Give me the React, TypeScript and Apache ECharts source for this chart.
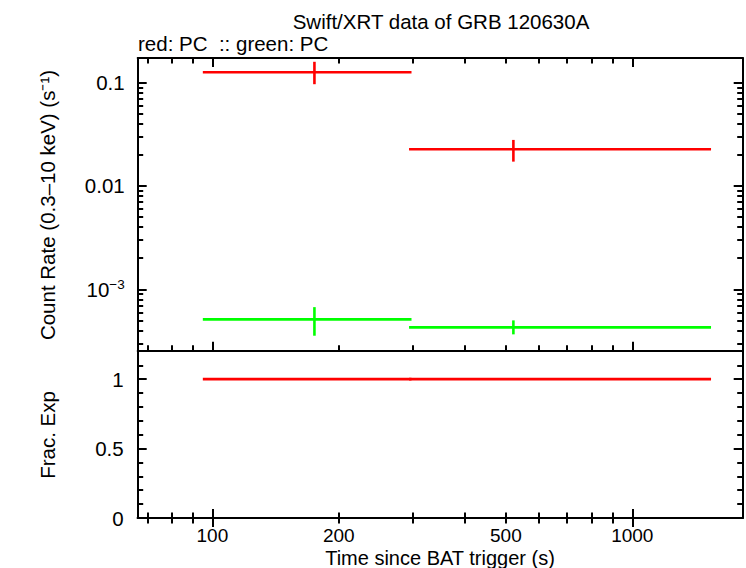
import React, { useEffect, useRef } from "react";
import * as echarts from "echarts";

// Time bins (s since BAT trigger)
const binStart = [94.9, 294];
const binEnd = [298, 1540];
const binMid = [175, 521];

// PC count rates (s^-1) with lower / upper error bounds
const redRate = [0.126, 0.0227];
const redLo = [0.0965, 0.0172];
const redHi = [0.159, 0.0279];

const greenRate = [5.12e-4, 4.29e-4];
const greenLo = [3.56e-4, 3.67e-4];
const greenHi = [6.73e-4, 5.01e-4];

// Fractional exposure per bin
const fracExp = [1, 1];

// Axis ticks and labels
const xMajor = [100, 1000];
const xMinor = [70, 80, 90, 200, 300, 400, 500, 600, 700, 800, 900];
const xLabels = [100, 200, 500, 1000];
const rateMajor = [1e-3, 1e-2, 1e-1];
const rateMinor = [
  3e-4, 4e-4, 5e-4, 6e-4, 7e-4, 8e-4, 9e-4,
  2e-3, 3e-3, 4e-3, 5e-3, 6e-3, 7e-3, 8e-3, 9e-3,
  2e-2, 3e-2, 4e-2, 5e-2, 6e-2, 7e-2, 8e-2, 9e-2,
];
const fracMajor = [0, 0.5, 1];
const fracMinor = [0.1, 0.2, 0.3, 0.4, 0.6, 0.7, 0.8, 0.9, 1.1];

const X_MIN = 66.4;
const X_MAX = 1832;
const RATE_MIN = 2.55e-4;
const RATE_MAX = 0.173;
const FRAC_MIN = 0;
const FRAC_MAX = 1.205;

const FONT = '"Liberation Sans", Arial, Helvetica, sans-serif';
const FS = 20.5;
const FS_X = 19;
const MAJOR_LEN = 9;
const MINOR_LEN = 5.5;

function rateLabel(v: number): string {
  if (Math.abs(v - 0.1) < 1e-9) return "{b|0.1}";
  if (Math.abs(v - 0.01) < 1e-10) return "{b|0.01}";
  return "{b|10}{s|\u22123}";
}

export default function App() {
  const ref = useRef<HTMLDivElement>(null);

  useEffect(() => {
    if (!ref.current) return;
    const chart = echarts.init(ref.current, null, { renderer: "svg" });

    const lineStyle = { color: "#000", width: 2 };

    const xAxisSet = (gridIndex: number, withLabels: boolean) => {
      const base = {
        type: "log" as const,
        gridIndex,
        min: X_MIN,
        max: X_MAX,
        logBase: 10,
        splitLine: { show: false },
      };
      return [
        {
          ...base,
          position: "bottom",
          axisLine: { show: true, lineStyle },
          axisTick: { show: true, inside: true, length: MAJOR_LEN, customValues: xMajor, lineStyle },
          axisLabel: withLabels
            ? {
                show: true,
                customValues: xLabels,
                margin: 7.5,
                lineHeight: 19,
                color: "#000",
                fontSize: FS_X,
                fontFamily: FONT,
                formatter: (v: number) => String(Math.round(v)),
              }
            : { show: false },
        },
        {
          ...base,
          position: "bottom",
          axisLine: { show: false },
          axisTick: { show: true, inside: true, length: MINOR_LEN, customValues: xMinor, lineStyle },
          axisLabel: { show: false },
        },
        {
          ...base,
          position: "top",
          axisLine: { show: true, lineStyle },
          axisTick: { show: true, inside: true, length: MAJOR_LEN, customValues: xMajor, lineStyle },
          axisLabel: { show: false },
        },
        {
          ...base,
          position: "top",
          axisLine: { show: false },
          axisTick: { show: true, inside: true, length: MINOR_LEN, customValues: xMinor, lineStyle },
          axisLabel: { show: false },
        },
      ];
    };

    const yAxisSet = (
      gridIndex: number,
      type: "log" | "value",
      min: number,
      max: number,
      major: number[],
      minor: number[],
      label: any
    ) => {
      const base: any = { type, gridIndex, min, max, splitLine: { show: false } };
      if (type === "log") base.logBase = 10;
      return [
        {
          ...base,
          position: "left",
          axisLine: { show: true, lineStyle },
          axisTick: { show: true, inside: true, length: MAJOR_LEN, customValues: major, lineStyle },
          axisLabel: label,
        },
        {
          ...base,
          position: "left",
          axisLine: { show: false },
          axisTick: { show: true, inside: true, length: MINOR_LEN, customValues: minor, lineStyle },
          axisLabel: { show: false },
        },
        {
          ...base,
          position: "right",
          axisLine: { show: true, lineStyle },
          axisTick: { show: true, inside: true, length: MAJOR_LEN, customValues: major, lineStyle },
          axisLabel: { show: false },
        },
        {
          ...base,
          position: "right",
          axisLine: { show: false },
          axisTick: { show: true, inside: true, length: MINOR_LEN, customValues: minor, lineStyle },
          axisLabel: { show: false },
        },
      ];
    };

    const rateLabelOpt = {
      show: true,
      customValues: rateMajor,
      margin: 13,
      color: "#000",
      formatter: rateLabel,
      rich: {
        b: { fontSize: FS, fontFamily: FONT, color: "#000", lineHeight: 23 },
        s: { fontSize: 13.5, fontFamily: FONT, color: "#000", lineHeight: 13.5, verticalAlign: "top" },
      },
    };
    const fracLabelOpt = {
      show: true,
      customValues: fracMajor,
      margin: 14,
      color: "#000",
      fontSize: FS,
      fontFamily: FONT,
      formatter: (v: number) => String(v),
    };

    // Horizontal bin bar plus vertical error bar, drawn through the axes' scales
    const errRender = (color: string, withVertical: boolean) => (params: any, api: any) => {
      const x0 = api.value(0);
      const x1 = api.value(1);
      const xm = api.value(2);
      const y = api.value(3);
      const lo = api.value(4);
      const hi = api.value(5);
      const pL = api.coord([x0, y]);
      const pR = api.coord([x1, y]);
      const children: any[] = [
        {
          type: "line",
          shape: { x1: pL[0], y1: pL[1], x2: pR[0], y2: pR[1] },
          style: { stroke: color, lineWidth: 2.6 },
        },
      ];
      if (withVertical) {
        const pB = api.coord([xm, lo]);
        const pT = api.coord([xm, hi]);
        children.push({
          type: "line",
          shape: { x1: pB[0], y1: pB[1], x2: pT[0], y2: pT[1] },
          style: { stroke: color, lineWidth: 2.6 },
        });
      }
      return { type: "group", children };
    };

    const rows = (rate: number[], lo: number[], hi: number[]) =>
      rate.map((r, i) => [binStart[i], binEnd[i], binMid[i], r, lo[i], hi[i]]);

    const gridLeft = 137.7;
    const gridRight = 746 - 742.7;

    chart.setOption({
      animation: false,
      title: {
        text: "Swift/XRT data of GRB 120630A",
        left: 436,
        top: 6,
        textAlign: "center",
        textStyle: { fontSize: FS, fontWeight: "normal", fontFamily: FONT, color: "#000" },
      },
      grid: [
        { left: gridLeft, right: gridRight, top: 58, height: 292.7 },
        { left: gridLeft, right: gridRight, top: 350.7, height: 167.3 },
      ],
      xAxis: [...xAxisSet(0, false), ...xAxisSet(1, true)],
      yAxis: [
        ...yAxisSet(0, "log", RATE_MIN, RATE_MAX, rateMajor, rateMinor, rateLabelOpt),
        ...yAxisSet(1, "value", FRAC_MIN, FRAC_MAX, fracMajor, fracMinor, fracLabelOpt),
      ],
      series: [
        {
          type: "custom",
          xAxisIndex: 0,
          yAxisIndex: 0,
          renderItem: errRender("#00ff00", true),
          data: rows(greenRate, greenLo, greenHi),
          z: 2,
        },
        {
          type: "custom",
          xAxisIndex: 0,
          yAxisIndex: 0,
          renderItem: errRender("#ff0000", true),
          data: rows(redRate, redLo, redHi),
          z: 3,
        },
        {
          type: "custom",
          xAxisIndex: 4,
          yAxisIndex: 4,
          renderItem: errRender("#ff0000", false),
          data: fracExp.map((f, i) => [binStart[i], binEnd[i], binMid[i], f, f, f]),
          z: 3,
        },
      ],
      graphic: [
        {
          type: "text",
          left: 138,
          top: 33,
          style: { text: "red: PC \u00a0:: green: PC", fontSize: FS, fontFamily: FONT, fill: "#000" },
        },
        {
          type: "text",
          x: 47,
          y: 205,
          rotation: Math.PI / 2,
          style: {
            text: "Count Rate (0.3\u201310 keV) (s\u207b\u00b9)",
            fontSize: FS,
            fontFamily: FONT,
            fill: "#000",
            align: "center",
            verticalAlign: "middle",
          },
        },
        {
          type: "text",
          x: 47,
          y: 435,
          rotation: Math.PI / 2,
          style: {
            text: "Frac. Exp",
            fontSize: FS,
            fontFamily: FONT,
            fill: "#000",
            align: "center",
            verticalAlign: "middle",
          },
        },
        {
          type: "text",
          x: 440,
          y: 557.5,
          style: {
            text: "Time since BAT trigger (s)",
            fontSize: 20,
            lineHeight: 18,
            fontFamily: FONT,
            fill: "#000",
            align: "center",
            verticalAlign: "middle",
          },
        },
      ],
    });

    return () => chart.dispose();
  }, []);

  return <div ref={ref} style={{ width: 746, height: 568, position: "absolute", left: 0, top: 0 }} />;
}
